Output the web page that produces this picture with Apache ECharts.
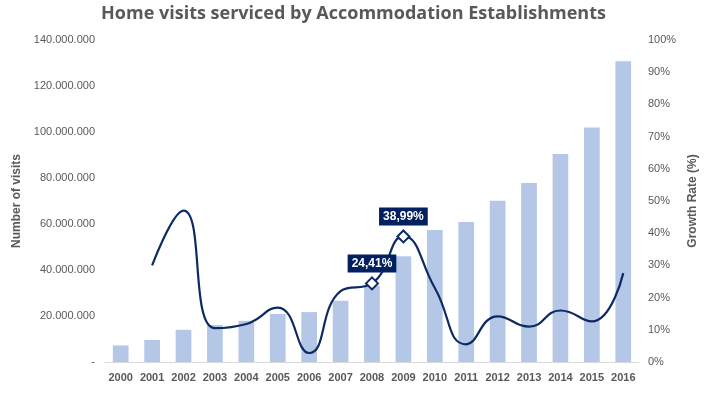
<!DOCTYPE html>
<html>
<head>
<meta charset="utf-8">
<script src="https://cdn.jsdelivr.net/npm/echarts@6/dist/echarts.min.js"></script>
<style>html,body{margin:0;padding:0;background:#fff}#c{width:707px;height:393px}</style>
</head>
<body>
<div id="c"></div>
<script>
var years = ['2000','2001','2002','2003','2004','2005','2006','2007','2008','2009','2010','2011','2012','2013','2014','2015','2016'];
var visits = [7200000, 9600000, 14000000, 16100000, 17900000, 20900000, 21700000, 26600000, 33100000, 46000000, 57400000, 60900000, 70100000, 77800000, 90400000, 102000000, 130800000];
var growth = [null, 30.0, 47.0, 10.5, 11.8, 16.9, 2.8, 22.0, 24.41, 38.99, 23.0, 5.5, 14.2, 11.0, 16.0, 12.6, 27.6];
var highlighted = ['2008','2009'];

function fmtDots(v){
  if (v === 0) return '-';
  return String(Math.round(v)).replace(/\B(?=(\d{3})+(?!\d))/g, '.');
}
var navy = '#0D2A62';
var lineData = growth.map(function(v, i){
  if (v === null) return null;
  if (highlighted.indexOf(years[i]) >= 0) {
    return {
      value: v,
      symbol: 'diamond',
      symbolSize: 12,
      itemStyle: {color: '#fff', borderColor: navy, borderWidth: 2},
      label: {
        show: true, position: 'top', distance: 4,
        formatter: function(p){ return p.value.toFixed(2).replace('.', ',') + '%'; },
        backgroundColor: '#002060', color: '#fff', fontWeight: 'bold',
        fontSize: 12, fontFamily: 'Liberation Sans', padding: [3, 4, 3, 4]
      }
    };
  }
  return {value: v, symbol: 'none'};
});

var chart = echarts.init(document.getElementById('c'));
chart.setOption({
  animation: false,
  title: {
    text: 'Home visits serviced by Accommodation Establishments',
    left: 'center', top: 0,
    textStyle: {color: '#595959', fontSize: 18, fontWeight: 'bold', fontFamily: 'Open Sans'}
  },
  grid: {left: 105, right: 66, top: 40, bottom: 31},
  xAxis: {
    type: 'category', data: years,
    axisLine: {lineStyle: {color: '#D9D9D9'}},
    axisTick: {show: false},
    axisLabel: {color: '#595959', fontWeight: 'bold', fontSize: 11, fontFamily: 'Liberation Sans', margin: 10, interval: 0}
  },
  yAxis: [{
    type: 'value', min: 0, max: 140000000, interval: 20000000,
    name: 'Number of visits', nameLocation: 'middle', nameRotate: 90, nameGap: 82,
    nameTextStyle: {color: '#595959', fontWeight: 'bold', fontSize: 12, fontFamily: 'Liberation Sans'},
    splitLine: {show: false},
    axisLine: {show: false}, axisTick: {show: false},
    axisLabel: {color: '#595959', fontSize: 11, fontFamily: 'Liberation Sans', margin: 10, formatter: fmtDots}
  }, {
    type: 'value', min: 0, max: 100, interval: 10,
    name: 'Growth Rate (%)', nameLocation: 'middle', nameRotate: 90, nameGap: 44,
    nameTextStyle: {color: '#595959', fontWeight: 'bold', fontSize: 12, fontFamily: 'Liberation Sans'},
    splitLine: {show: false},
    axisLine: {show: false}, axisTick: {show: false},
    axisLabel: {color: '#595959', fontSize: 11, fontFamily: 'Liberation Sans', margin: 9, formatter: '{value}%'}
  }],
  series: [{
    type: 'bar', data: visits, barWidth: '50%',
    itemStyle: {color: '#B4C7E7'}
  }, {
    type: 'line', yAxisIndex: 1, data: lineData, smooth: 0.5,
    showSymbol: true, connectNulls: false,
    lineStyle: {color: navy, width: 2.2},
    itemStyle: {color: navy},
    z: 5
  }]
});
</script>
</body>
</html>
